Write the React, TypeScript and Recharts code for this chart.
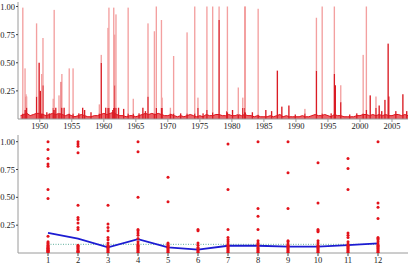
import React from 'react';
import { ComposedChart, Area, Bar, Scatter, Line, XAxis, YAxis } from 'recharts';

// ---- Daily series: background level, sampled every half year ----
const BASE_START = 1947;
const BASE_STEP = 0.5;
const baseLevels = [
  0.03, 0.04, 0.05, 0.03, 0.04, 0.05, 0.05, 0.04, 0.03, 0.04,
  0.05, 0.04, 0.05, 0.04, 0.03, 0.04, 0.03, 0.02, 0.03, 0.04,
  0.03, 0.02, 0.02, 0.03, 0.03, 0.04, 0.05, 0.04, 0.05, 0.06,
  0.04, 0.03, 0.03, 0.02, 0.03, 0.03, 0.02, 0.03, 0.04, 0.05,
  0.04, 0.05, 0.04, 0.05, 0.04, 0.03, 0.03, 0.04, 0.03, 0.02,
  0.03, 0.02, 0.03, 0.04, 0.03, 0.02, 0.03, 0.02, 0.04, 0.03,
  0.03, 0.04, 0.04, 0.03, 0.03, 0.04, 0.03, 0.03, 0.04, 0.03,
  0.04, 0.03, 0.03, 0.02, 0.03, 0.02, 0.02, 0.02, 0.03, 0.02,
  0.03, 0.04, 0.02, 0.03, 0.02, 0.02, 0.02, 0.02, 0.03, 0.02,
  0.02, 0.03, 0.04, 0.03, 0.03, 0.04, 0.03, 0.02, 0.04, 0.03,
  0.03, 0.02, 0.02, 0.02, 0.02, 0.03, 0.03, 0.04, 0.04, 0.03,
  0.04, 0.03, 0.04, 0.03, 0.04, 0.03, 0.03, 0.04, 0.04, 0.03,
  0.04, 0.03,
];

// ---- Daily series: peaks (time, peak value, dense core value) ----
const spikeYears = [
  1947.35, 1947.7, 1947.85, 1947.95, 1949.5, 1949.9, 1950.1, 1950.3, 1950.5, 1951.1,
  1951.5, 1952.1, 1952.25, 1952.5, 1953.0, 1953.35, 1953.45, 1953.8, 1954.6, 1955.2,
  1956.1, 1956.7, 1957.0, 1958.0, 1959.3, 1959.6, 1960.3, 1960.65, 1960.8, 1961.4,
  1961.55, 1961.7, 1961.9, 1962.3, 1963.1, 1963.8, 1964.6, 1965.5, 1966.1, 1966.5,
  1966.9, 1967.9, 1968.2, 1969.0, 1969.1, 1970.4, 1970.9, 1972.0, 1973.0, 1974.2,
  1974.7, 1975.5, 1976.1, 1977.0, 1978.0, 1979.2, 1979.3, 1980.1, 1981.0, 1981.7,
  1982.0, 1982.1, 1983.2, 1984.1, 1985.3, 1986.2, 1987.1, 1987.8, 1988.9, 1989.9,
  1991.4, 1993.2, 1994.1, 1995.5, 1996.0, 1996.15, 1997.0, 1998.4, 1999.5, 2000.5,
  2001.0, 2001.6, 2002.5, 2003.0, 2003.4, 2003.9, 2004.4, 2004.5, 2005.6, 2006.7,
  2007.3,
];
const spikePeaks = [
  0.99, 0.45, 0.22, 0.2, 0.85, 0.5, 0.25, 0.4, 0.72, 0.06,
  0.05, 0.18, 0.97, 0.1, 0.21, 0.33, 0.4, 0.1, 0.45, 0.45,
  0.05, 0.1, 0.08, 0.06, 0.13, 0.57, 0.1, 0.81, 0.99, 0.08,
  0.99, 0.75, 0.93, 0.1, 0.09, 0.99, 0.18, 0.05, 0.1, 0.07,
  0.85, 0.78, 1.0, 0.88, 0.19, 0.1, 0.56, 0.05, 0.77, 1.0,
  0.19, 0.05, 1.0, 1.0, 1.0, 0.07, 1.0, 0.08, 0.28, 0.19,
  1.0, 1.0, 0.06, 0.98, 0.08, 0.07, 0.43, 0.11, 0.12, 0.04,
  0.09, 0.9, 1.0, 0.05, 1.0, 0.3, 0.3, 0.04, 0.05, 0.57,
  1.0, 0.21, 0.2, 0.12, 0.07, 0.17, 0.67, 0.2, 0.07, 0.22,
  0.07,
];
const spikeCores = [
  0.05, 0.08, 0.2, 0.1, 0.2, 0.5, 0.25, 0.05, 0.3, 0.06,
  0.05, 0.1, 0.08, 0.1, 0.05, 0.33, 0.1, 0.1, 0.05, 0.05,
  0.05, 0.1, 0.08, 0.06, 0.05, 0.5, 0.1, 0.1, 0.1, 0.08,
  0.1, 0.3, 0.1, 0.1, 0.09, 0.05, 0.05, 0.05, 0.1, 0.07,
  0.2, 0.05, 0.1, 0.1, 0.1, 0.05, 0.05, 0.05, 0.05, 0.05,
  0.1, 0.05, 0.08, 0.06, 0.88, 0.07, 0.06, 0.08, 0.04, 0.1,
  0.1, 0.06, 0.06, 0.04, 0.08, 0.07, 0.43, 0.11, 0.12, 0.04,
  0.05, 0.43, 0.05, 0.05, 0.4, 0.3, 0.15, 0.04, 0.05, 0.05,
  0.08, 0.21, 0.1, 0.12, 0.07, 0.17, 0.67, 0.2, 0.07, 0.22,
  0.07,
];

const yearTicks = [1950, 1955, 1960, 1965, 1970, 1975, 1980, 1985, 1990, 1995, 2000, 2005];
const valueTicks = [0.25, 0.5, 0.75, 1];
const minorValueTicks = [
  0.0625, 0.125, 0.1875, 0.3125, 0.375, 0.4375, 0.5625, 0.625, 0.6875,
  0.8125, 0.875, 0.9375,
];

// ---- Monthly breakdown ----
const months = [1, 2, 3, 4, 5, 6, 7, 8, 9, 10, 11, 12];
const monthValues: number[][] = [
  [1.0, 0.93, 0.85, 0.8, 0.78, 0.57, 0.49, 0.15, 0.1, 0.09, 0.08, 0.07, 0.06, 0.05, 0.045, 0.04, 0.035, 0.03, 0.025, 0.02, 0.015, 0.01, 0.005],
  [1.0, 0.98, 0.96, 0.9, 0.43, 0.32, 0.3, 0.27, 0.23, 0.21, 0.07, 0.06, 0.05, 0.04, 0.03, 0.02, 0.015, 0.01, 0.005],
  [0.43, 0.26, 0.23, 0.2, 0.14, 0.12, 0.09, 0.07, 0.06, 0.05, 0.04, 0.03, 0.02, 0.01, 0.005],
  [1.0, 0.91, 0.5, 0.21, 0.2, 0.18, 0.16, 0.13, 0.1, 0.08, 0.07, 0.06, 0.05, 0.04, 0.03, 0.02, 0.01, 0.005],
  [0.68, 0.46, 0.09, 0.08, 0.07, 0.06, 0.05, 0.04, 0.03, 0.02, 0.01, 0.005],
  [0.21, 0.2, 0.09, 0.07, 0.05, 0.04, 0.03, 0.02, 0.01, 0.005],
  [0.98, 0.57, 0.21, 0.14, 0.12, 0.1, 0.08, 0.07, 0.06, 0.05, 0.04, 0.03, 0.02, 0.01, 0.005],
  [1.0, 0.4, 0.33, 0.21, 0.11, 0.09, 0.08, 0.07, 0.05, 0.04, 0.03, 0.02, 0.01, 0.005],
  [1.0, 0.72, 0.4, 0.11, 0.1, 0.08, 0.07, 0.06, 0.05, 0.04, 0.03, 0.02, 0.01, 0.005],
  [0.81, 0.45, 0.21, 0.2, 0.19, 0.11, 0.09, 0.07, 0.06, 0.05, 0.04, 0.03, 0.02, 0.01, 0.005],
  [0.85, 0.76, 0.57, 0.18, 0.16, 0.14, 0.1, 0.08, 0.07, 0.06, 0.05, 0.04, 0.03, 0.02, 0.01, 0.005],
  [1.0, 0.45, 0.41, 0.31, 0.14, 0.13, 0.12, 0.1, 0.08, 0.07, 0.06, 0.05, 0.04, 0.03, 0.02, 0.01, 0.005],
];
const monthMeans = [0.18, 0.13, 0.05, 0.125, 0.05, 0.03, 0.065, 0.065, 0.057, 0.057, 0.07, 0.087];
const monthMedians = [0.078, 0.078, 0.078, 0.078, 0.078, 0.078, 0.078, 0.078, 0.078, 0.078, 0.078, 0.078];

// ---- Derived tables ----
type Row = { t: number; base?: number; core?: number; halo?: number };
const topRows: Row[] = [
  ...baseLevels.map((b, i) => ({ t: BASE_START + i * BASE_STEP, base: b })),
  ...spikeYears.map((t, i) => ({ t, core: spikeCores[i], halo: Math.max(0, spikePeaks[i] - spikeCores[i]) })),
].sort((a, b) => a.t - b.t);

const monthPoints = months.flatMap((m, i) => monthValues[i].map((v) => ({ m, v })));
const monthRows = months.map((m, i) => ({ m, mean: monthMeans[i], median: monthMedians[i] }));

const FONT = 'Liberation Serif, Times New Roman, serif';
const tickStyle = { fontSize: 8.5, fill: '#1a1a1a', fontFamily: FONT };
const FRAME = '#9a9a9a';
const fmt = (v: number) => v.toFixed(2);

// Spikes keep a fixed stroke width, centred on the bar the scale computed.
const SPIKE_W = 1.35;
const spikeShape = (color: string) => (props: any) => {
  const { x, y, width, height } = props;
  if (!height || height <= 0) return <g />;
  return <rect x={x + width / 2 - SPIKE_W / 2} y={y} width={SPIKE_W} height={height} fill={color} />;
};
const coreShape = spikeShape('#da1c24');
const haloShape = spikeShape('#f3a0a0');

const Dot = (props: any) => <circle cx={props.cx} cy={props.cy} r={1.5} fill="#e3131b" />;

export default function App() {
  return (
    <div style={{ position: 'fixed', left: 0, top: 0, width: 411, height: 268, background: '#fff' }}>
      <div style={{ position: 'absolute', left: 0, top: 0 }}>
        <ComposedChart width={411} height={134} data={topRows} margin={{ top: 2, right: 3, bottom: 0, left: 0 }}>
          <XAxis
            dataKey="t"
            type="number"
            domain={[1946.6, 2007.5]}
            allowDataOverflow
            ticks={yearTicks}
            height={15}
            tickSize={3}
            tickMargin={1}
            tick={tickStyle}
            axisLine={{ stroke: FRAME }}
            tickLine={{ stroke: FRAME }}
          />
          <XAxis xAxisId="top" orientation="top" type="number" domain={[1946.6, 2007.5]} height={0} tick={false} tickLine={false} axisLine={{ stroke: FRAME }} />
          <YAxis
            type="number"
            domain={[0, 1.04]}
            allowDataOverflow
            ticks={valueTicks}
            tickFormatter={fmt}
            width={18}
            tickSize={2}
            tickMargin={1}
            tick={tickStyle}
            axisLine={{ stroke: FRAME }}
            tickLine={{ stroke: '#444' }}
          />
          <YAxis yAxisId="right" orientation="right" type="number" domain={[0, 1.04]} width={0} tick={false} tickLine={false} axisLine={{ stroke: FRAME }} />
          <Bar dataKey="core" stackId="s" shape={coreShape} isAnimationActive={false} />
          <Bar dataKey="halo" stackId="s" shape={haloShape} isAnimationActive={false} />
          <Area
            dataKey="base"
            type="linear"
            connectNulls
            stroke="#dc1018"
            strokeWidth={1}
            fill="#e63a40"
            fillOpacity={0.8}
            dot={false}
            activeDot={false}
            isAnimationActive={false}
          />
        </ComposedChart>
      </div>
      <div style={{ position: 'absolute', left: 0, top: 133 }}>
        <ComposedChart width={411} height={135} margin={{ top: 2, right: 3, bottom: 0, left: 0 }}>
          <XAxis
            dataKey="m"
            type="number"
            domain={[0, 13]}
            ticks={months}
            height={15}
            tickSize={3}
            tickMargin={1}
            tick={tickStyle}
            axisLine={{ stroke: FRAME }}
            tickLine={{ stroke: '#444' }}
          />
          <XAxis xAxisId="top" orientation="top" type="number" domain={[0, 13]} height={0} tick={false} tickLine={false} axisLine={{ stroke: FRAME }} />
          <YAxis
            yAxisId="minor"
            type="number"
            domain={[0, 1.06]}
            allowDataOverflow
            ticks={minorValueTicks}
            width={0}
            mirror
            tick={false}
            tickSize={1.5}
            axisLine={false}
            tickLine={{ stroke: '#777' }}
          />
          <YAxis
            type="number"
            domain={[0, 1.06]}
            allowDataOverflow
            ticks={valueTicks}
            tickFormatter={fmt}
            width={18}
            tickSize={2}
            tickMargin={1}
            tick={tickStyle}
            axisLine={{ stroke: FRAME }}
            tickLine={{ stroke: '#444' }}
          />
          <YAxis yAxisId="right" orientation="right" type="number" domain={[0, 1.06]} width={0} tick={false} tickLine={false} axisLine={{ stroke: FRAME }} />
          <Line data={monthRows} dataKey="median" type="linear" stroke="#5fae9c" strokeWidth={1} strokeDasharray="1 1.5" dot={false} activeDot={false} isAnimationActive={false} />
          <Line data={monthRows} dataKey="mean" type="linear" stroke="#1c1cd2" strokeWidth={1.8} dot={false} activeDot={false} isAnimationActive={false} />
          <Scatter data={monthPoints} dataKey="v" shape={Dot} isAnimationActive={false} />
        </ComposedChart>
      </div>
    </div>
  );
}
